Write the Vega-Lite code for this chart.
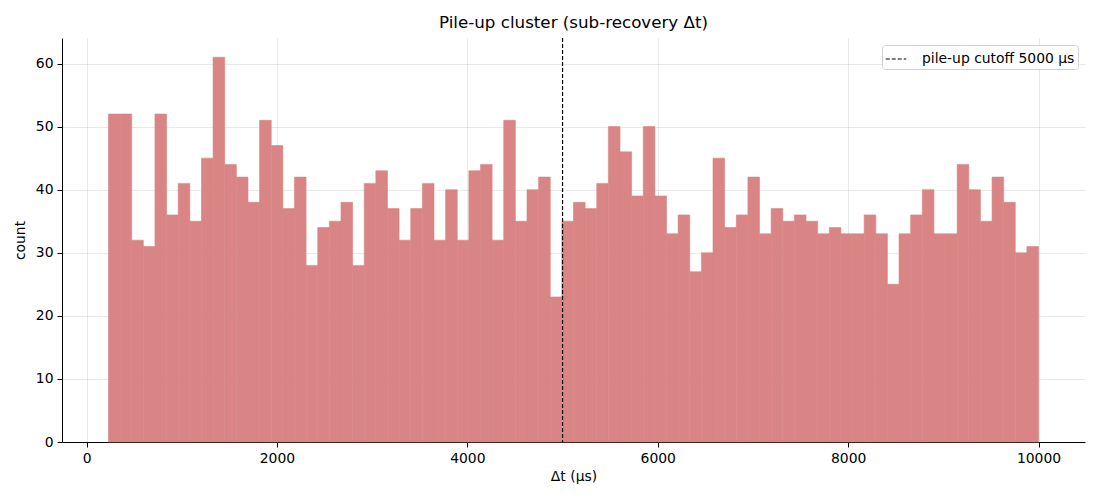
{
  "$schema": "https://vega.github.io/schema/vega-lite/v6.json",
  "description": "Pile-up cluster histogram of sub-recovery delta t",
  "width": 1023,
  "height": 404,
  "autosize": {"type": "none"},
  "padding": {"left": 62, "top": 38, "right": 15, "bottom": 58},
  "background": "white",
  "config": {
    "view": {"stroke": null},
    "font": "DejaVu Sans",
    "axis": {
      "zindex": 1,
      "domainColor": "#000",
      "domainWidth": 1,
      "tickColor": "#000",
      "tickSize": 5,
      "tickWidth": 1,
      "labelPadding": 4,
      "labelFontSize": 13.9,
      "labelColor": "#000",
      "titleFontSize": 13.9,
      "titleFontWeight": "normal",
      "titleColor": "#000",
      "gridColor": "#b0b0b0",
      "gridOpacity": 0.35,
      "gridWidth": 0.8
    },
    "legend": {
      "labelFontSize": 13.9,
      "labelColor": "#000"
    }
  },
  "title": {
    "text": "Pile-up cluster (sub-recovery Δt)",
    "fontSize": 16.7,
    "fontWeight": "normal",
    "color": "#000",
    "anchor": "middle",
    "offset": 6
  },
  "layer": [
    {
      "data": {
        "values": [
          {"lo": 230.0, "hi": 352.1, "count": 52},
          {"lo": 352.1, "hi": 474.3, "count": 52},
          {"lo": 474.3, "hi": 596.4, "count": 32},
          {"lo": 596.4, "hi": 718.5, "count": 31},
          {"lo": 718.5, "hi": 840.6, "count": 52},
          {"lo": 840.6, "hi": 962.8, "count": 36},
          {"lo": 962.8, "hi": 1084.9, "count": 41},
          {"lo": 1084.9, "hi": 1207.0, "count": 35},
          {"lo": 1207.0, "hi": 1329.1, "count": 45},
          {"lo": 1329.1, "hi": 1451.3, "count": 61},
          {"lo": 1451.3, "hi": 1573.4, "count": 44},
          {"lo": 1573.4, "hi": 1695.5, "count": 42},
          {"lo": 1695.5, "hi": 1817.6, "count": 38},
          {"lo": 1817.6, "hi": 1939.8, "count": 51},
          {"lo": 1939.8, "hi": 2061.9, "count": 47},
          {"lo": 2061.9, "hi": 2184.0, "count": 37},
          {"lo": 2184.0, "hi": 2306.1, "count": 42},
          {"lo": 2306.1, "hi": 2428.3, "count": 28},
          {"lo": 2428.3, "hi": 2550.4, "count": 34},
          {"lo": 2550.4, "hi": 2672.5, "count": 35},
          {"lo": 2672.5, "hi": 2794.6, "count": 38},
          {"lo": 2794.6, "hi": 2916.8, "count": 28},
          {"lo": 2916.8, "hi": 3038.9, "count": 41},
          {"lo": 3038.9, "hi": 3161.0, "count": 43},
          {"lo": 3161.0, "hi": 3283.1, "count": 37},
          {"lo": 3283.1, "hi": 3405.3, "count": 32},
          {"lo": 3405.3, "hi": 3527.4, "count": 37},
          {"lo": 3527.4, "hi": 3649.5, "count": 41},
          {"lo": 3649.5, "hi": 3771.6, "count": 32},
          {"lo": 3771.6, "hi": 3893.8, "count": 40},
          {"lo": 3893.8, "hi": 4015.9, "count": 32},
          {"lo": 4015.9, "hi": 4138.0, "count": 43},
          {"lo": 4138.0, "hi": 4260.1, "count": 44},
          {"lo": 4260.1, "hi": 4382.3, "count": 32},
          {"lo": 4382.3, "hi": 4504.4, "count": 51},
          {"lo": 4504.4, "hi": 4626.5, "count": 35},
          {"lo": 4626.5, "hi": 4748.6, "count": 40},
          {"lo": 4748.6, "hi": 4870.8, "count": 42},
          {"lo": 4870.8, "hi": 4992.9, "count": 23},
          {"lo": 4992.9, "hi": 5115.0, "count": 35},
          {"lo": 5115.0, "hi": 5237.1, "count": 38},
          {"lo": 5237.1, "hi": 5359.3, "count": 37},
          {"lo": 5359.3, "hi": 5481.4, "count": 41},
          {"lo": 5481.4, "hi": 5603.5, "count": 50},
          {"lo": 5603.5, "hi": 5725.6, "count": 46},
          {"lo": 5725.6, "hi": 5847.8, "count": 39},
          {"lo": 5847.8, "hi": 5969.9, "count": 50},
          {"lo": 5969.9, "hi": 6092.0, "count": 39},
          {"lo": 6092.0, "hi": 6214.1, "count": 33},
          {"lo": 6214.1, "hi": 6336.3, "count": 36},
          {"lo": 6336.3, "hi": 6458.4, "count": 27},
          {"lo": 6458.4, "hi": 6580.5, "count": 30},
          {"lo": 6580.5, "hi": 6702.6, "count": 45},
          {"lo": 6702.6, "hi": 6824.8, "count": 34},
          {"lo": 6824.8, "hi": 6946.9, "count": 36},
          {"lo": 6946.9, "hi": 7069.0, "count": 42},
          {"lo": 7069.0, "hi": 7191.1, "count": 33},
          {"lo": 7191.1, "hi": 7313.3, "count": 37},
          {"lo": 7313.3, "hi": 7435.4, "count": 35},
          {"lo": 7435.4, "hi": 7557.5, "count": 36},
          {"lo": 7557.5, "hi": 7679.6, "count": 35},
          {"lo": 7679.6, "hi": 7801.8, "count": 33},
          {"lo": 7801.8, "hi": 7923.9, "count": 34},
          {"lo": 7923.9, "hi": 8046.0, "count": 33},
          {"lo": 8046.0, "hi": 8168.1, "count": 33},
          {"lo": 8168.1, "hi": 8290.3, "count": 36},
          {"lo": 8290.3, "hi": 8412.4, "count": 33},
          {"lo": 8412.4, "hi": 8534.5, "count": 25},
          {"lo": 8534.5, "hi": 8656.6, "count": 33},
          {"lo": 8656.6, "hi": 8778.8, "count": 36},
          {"lo": 8778.8, "hi": 8900.9, "count": 40},
          {"lo": 8900.9, "hi": 9023.0, "count": 33},
          {"lo": 9023.0, "hi": 9145.1, "count": 33},
          {"lo": 9145.1, "hi": 9267.3, "count": 44},
          {"lo": 9267.3, "hi": 9389.4, "count": 40},
          {"lo": 9389.4, "hi": 9511.5, "count": 35},
          {"lo": 9511.5, "hi": 9633.6, "count": 42},
          {"lo": 9633.6, "hi": 9755.8, "count": 38},
          {"lo": 9755.8, "hi": 9877.9, "count": 30},
          {"lo": 9877.9, "hi": 10000.0, "count": 31}
        ]
      },
      "mark": {"type": "rect", "color": "#d98585", "stroke": "#d98585", "strokeWidth": 0.6},
      "encoding": {
        "x": {
          "field": "lo",
          "type": "quantitative",
          "title": "Δt (μs)",
          "scale": {"domain": [-258, 10488], "nice": false, "zero": false},
          "axis": {"values": [0, 2000, 4000, 6000, 8000, 10000], "format": "d", "titlePadding": 5}
        },
        "x2": {"field": "hi"},
        "y": {
          "field": "count",
          "type": "quantitative",
          "title": "count",
          "scale": {"domain": [0, 64.05], "nice": false},
          "axis": {"values": [0, 10, 20, 30, 40, 50, 60], "titlePadding": 8}
        },
        "y2": {"datum": 0}
      }
    },
    {
      "data": {"values": [{"cutoff": 5000, "label": "pile-up cutoff 5000 μs"}]},
      "mark": {"type": "rule", "color": "black", "strokeWidth": 1.2},
      "encoding": {
        "x": {"field": "cutoff", "type": "quantitative"},
        "strokeDash": {
          "field": "label",
          "type": "nominal",
          "scale": {"range": [[4, 2]]},
          "legend": {
            "title": null,
            "orient": "top-right",
            "offset": 7,
            "symbolType": "stroke",
            "symbolSize": 420,
            "symbolStrokeWidth": 1.2,
            "symbolStrokeColor": "black",
            "labelOffset": 15,
            "padding": 3,
            "fillColor": "white",
            "strokeColor": "#d0d0d0",
            "cornerRadius": 3
          }
        }
      }
    }
  ]
}
